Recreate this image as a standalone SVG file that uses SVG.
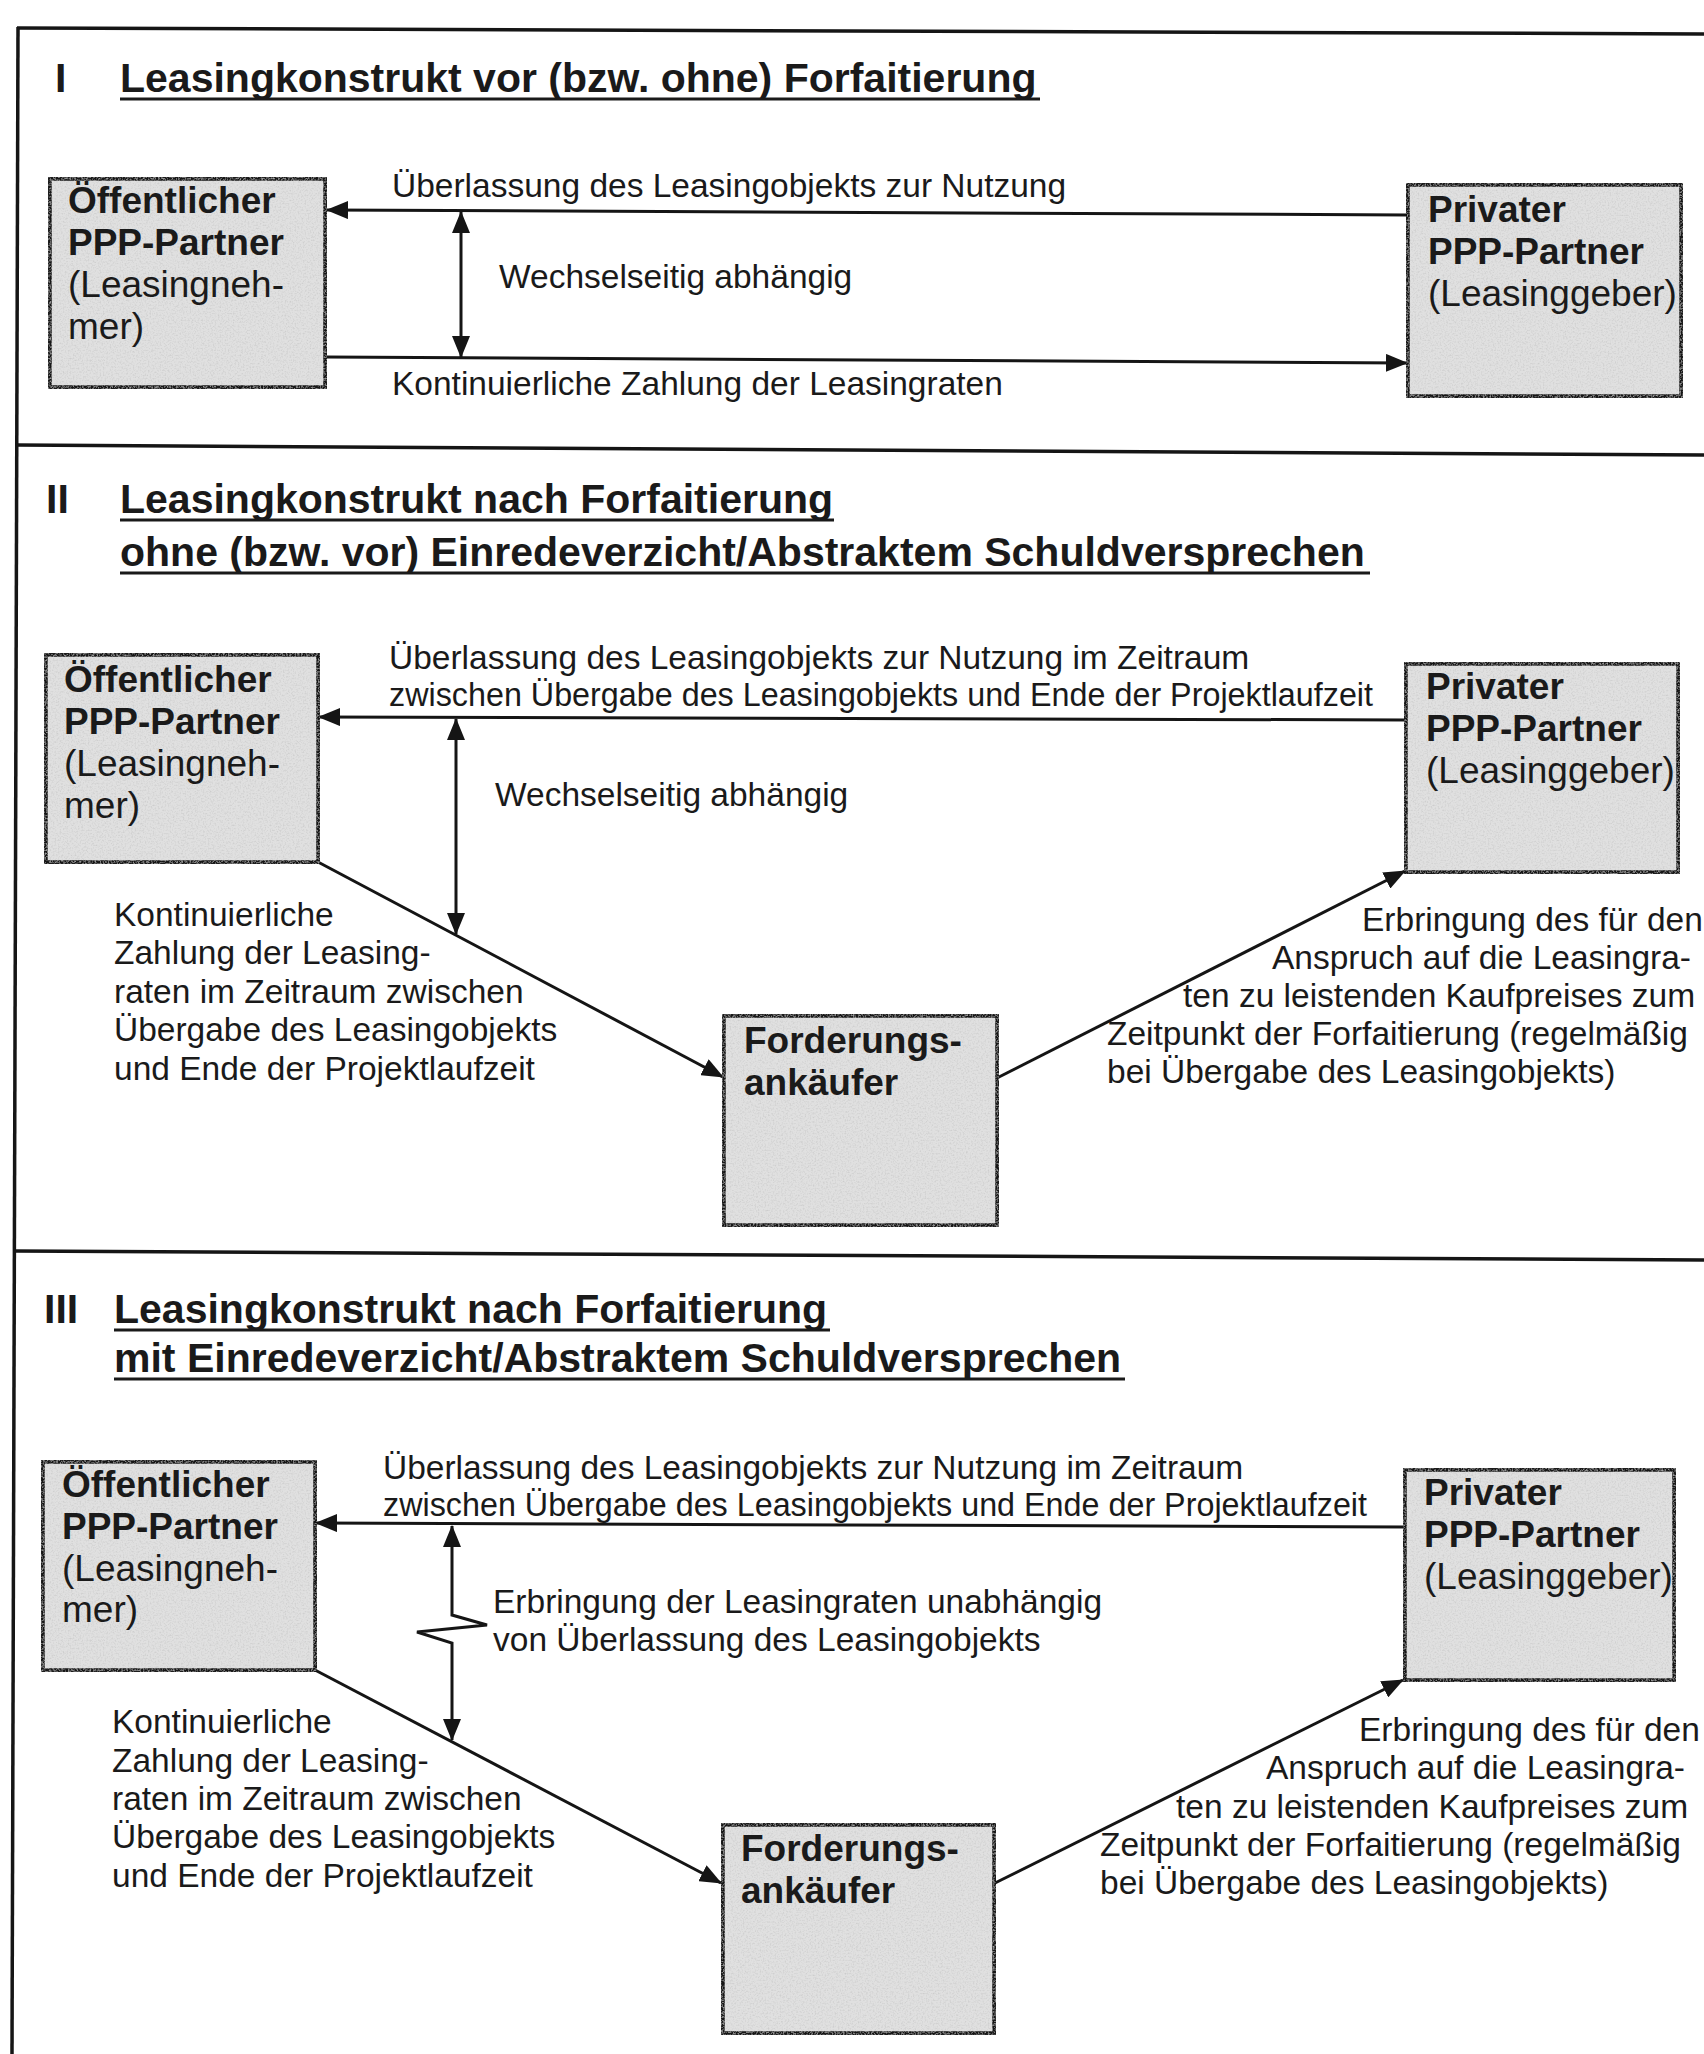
<svg xmlns="http://www.w3.org/2000/svg" width="1704" height="2054" viewBox="0 0 1704 2054">
<style>
text{font-family:"Liberation Sans",Arial,Helvetica,sans-serif;fill:#1a1a1a}
.title{font-size:41px;font-weight:bold}
.num{font-size:41px;font-weight:bold}
.nb{font-size:37px;font-weight:bold}
.nr{font-size:37px}
.lbl{font-size:33.5px}
.box{fill:#e0e0e0;stroke:#151515;stroke-width:3.5;filter:url(#speckle)}
.frame{stroke:#151515;stroke-width:3.5;fill:none}
.uline{stroke:#1a1a1a;stroke-width:3}
.con{stroke:#151515;stroke-width:3;fill:none}
.arr{marker-end:url(#ah)}
.dbl{marker-start:url(#ahs);marker-end:url(#ah)}
</style>
<defs>
<marker id="ah" viewBox="0 0 22 18" refX="21" refY="9" markerWidth="22" markerHeight="18" markerUnits="userSpaceOnUse" orient="auto">
<path d="M0,0 L22,9 L0,18 Z" fill="#151515"/>
</marker>
<marker id="ahs" viewBox="0 0 22 18" refX="1" refY="9" markerWidth="22" markerHeight="18" markerUnits="userSpaceOnUse" orient="auto">
<path d="M22,0 L0,9 L22,18 Z" fill="#151515"/>
</marker>
<filter id="speckle" x="-0.05" y="-0.05" width="1.1" height="1.1">
<feTurbulence type="fractalNoise" baseFrequency="0.6" numOctaves="2" seed="7" result="t"/>
<feColorMatrix in="t" type="matrix" values="0 0 0 0 0.55  0 0 0 0 0.55  0 0 0 0 0.55  0 0 0 1.6 -0.72" result="dots"/>
<feComposite in="dots" in2="SourceGraphic" operator="atop" result="d2"/>
<feMerge><feMergeNode in="SourceGraphic"/><feMergeNode in="d2"/></feMerge>
</filter>
</defs>
<rect x="0" y="0" width="1704" height="2054" fill="#ffffff"/>

<g id="frame">
<line class="frame" x1="17" y1="28" x2="1704" y2="34"/>
<line class="frame" x1="18" y1="27" x2="12" y2="2054"/>
<line class="frame" x1="17" y1="445" x2="1704" y2="455"/>
<line class="frame" x1="15" y1="1251" x2="1704" y2="1260"/>
</g>

<g id="section-I-title">
<text class="num" x="55" y="92">I</text>
<text class="title" x="120" y="92">Leasingkonstrukt vor (bzw. ohne) Forfaitierung</text>
<line class="uline" x1="120" y1="99" x2="1040" y2="99"/>
</g>
<g id="section-II-title">
<text class="num" x="46" y="513">II</text>
<text class="title" x="120" y="513">Leasingkonstrukt nach Forfaitierung</text>
<line class="uline" x1="120" y1="520" x2="834" y2="520"/>
<text class="title" x="120" y="566">ohne (bzw. vor) Einredeverzicht/Abstraktem Schuldversprechen</text>
<line class="uline" x1="120" y1="573" x2="1370" y2="573"/>
</g>
<g id="section-III-title">
<text class="num" x="44" y="1323">III</text>
<text class="title" x="114" y="1323">Leasingkonstrukt nach Forfaitierung</text>
<line class="uline" x1="114" y1="1330" x2="830" y2="1330"/>
<text class="title" x="114" y="1372">mit Einredeverzicht/Abstraktem Schuldversprechen</text>
<line class="uline" x1="114" y1="1379" x2="1125" y2="1379"/>
</g>

<g id="connectors">
<line class="con arr" x1="1408" y1="215" x2="327" y2="210"/>
<line class="con arr" x1="326" y1="357" x2="1407" y2="363"/>
<line class="con dbl" x1="461" y1="212" x2="461" y2="357"/>

<line class="con arr" x1="1406" y1="720" x2="319" y2="717"/>
<line class="con dbl" x1="456" y1="719" x2="456" y2="934"/>
<line class="con arr" x1="318" y1="862" x2="723" y2="1077"/>
<line class="con arr" x1="997" y1="1078" x2="1405" y2="871"/>

<line class="con arr" x1="1405" y1="1527" x2="316" y2="1523"/>
<polyline class="con dbl" points="452,1526 452,1615 487,1625 417,1632 452,1643 452,1740"/>
<line class="con arr" x1="315" y1="1670" x2="721" y2="1883"/>
<line class="con arr" x1="995" y1="1883" x2="1403" y2="1680"/>
</g>

<g id="labels-I">
<text class="lbl" x="392" y="197">Überlassung des Leasingobjekts zur Nutzung</text>
<text class="lbl" x="499" y="288">Wechselseitig abhängig</text>
<text class="lbl" x="392" y="395">Kontinuierliche Zahlung der Leasingraten</text>
</g>
<g id="labels-II">
<text class="lbl" x="389" y="669">Überlassung des Leasingobjekts zur Nutzung im Zeitraum</text>
<text class="lbl" x="389" y="706" textLength="984" lengthAdjust="spacingAndGlyphs">zwischen Übergabe des Leasingobjekts und Ende der Projektlaufzeit</text>
<text class="lbl" x="495" y="806">Wechselseitig abhängig</text>
<text class="lbl" x="114" y="926">Kontinuierliche</text>
<text class="lbl" x="114" y="964">Zahlung der Leasing-</text>
<text class="lbl" x="114" y="1003">raten im Zeitraum zwischen</text>
<text class="lbl" x="114" y="1041">Übergabe des Leasingobjekts</text>
<text class="lbl" x="114" y="1080">und Ende der Projektlaufzeit</text>
<text class="lbl" x="1362" y="931">Erbringung des für den</text>
<text class="lbl" x="1272" y="969">Anspruch auf die Leasingra-</text>
<text class="lbl" x="1183" y="1007">ten zu leistenden Kaufpreises zum</text>
<text class="lbl" x="1107" y="1045">Zeitpunkt der Forfaitierung (regelmäßig</text>
<text class="lbl" x="1107" y="1083">bei Übergabe des Leasingobjekts)</text>
</g>
<g id="labels-III">
<text class="lbl" x="383" y="1479">Überlassung des Leasingobjekts zur Nutzung im Zeitraum</text>
<text class="lbl" x="383" y="1516" textLength="984" lengthAdjust="spacingAndGlyphs">zwischen Übergabe des Leasingobjekts und Ende der Projektlaufzeit</text>
<text class="lbl" x="493" y="1613">Erbringung der Leasingraten unabhängig</text>
<text class="lbl" x="493" y="1651">von Überlassung des Leasingobjekts</text>
<text class="lbl" x="112" y="1733">Kontinuierliche</text>
<text class="lbl" x="112" y="1772">Zahlung der Leasing-</text>
<text class="lbl" x="112" y="1810">raten im Zeitraum zwischen</text>
<text class="lbl" x="112" y="1848">Übergabe des Leasingobjekts</text>
<text class="lbl" x="112" y="1887">und Ende der Projektlaufzeit</text>
<text class="lbl" x="1359" y="1741">Erbringung des für den</text>
<text class="lbl" x="1266" y="1779">Anspruch auf die Leasingra-</text>
<text class="lbl" x="1176" y="1818">ten zu leistenden Kaufpreises zum</text>
<text class="lbl" x="1100" y="1856">Zeitpunkt der Forfaitierung (regelmäßig</text>
<text class="lbl" x="1100" y="1894">bei Übergabe des Leasingobjekts)</text>
</g>

<g id="node-I-oeffentlich">
<rect class="box" x="50" y="179" width="275" height="208"/>
<text class="nb" x="68" y="213">Öffentlicher</text>
<text class="nb" x="68" y="255">PPP-Partner</text>
<text class="nr" x="68" y="297">(Leasingneh-</text>
<text class="nr" x="68" y="339">mer)</text>
</g>
<g id="node-I-privat">
<rect class="box" x="1408" y="185" width="273" height="211"/>
<text class="nb" x="1428" y="222">Privater</text>
<text class="nb" x="1428" y="264">PPP-Partner</text>
<text class="nr" x="1428" y="306">(Leasinggeber)</text>
</g>

<g id="node-II-oeffentlich">
<rect class="box" x="46" y="655" width="272" height="207"/>
<text class="nb" x="64" y="692">Öffentlicher</text>
<text class="nb" x="64" y="734">PPP-Partner</text>
<text class="nr" x="64" y="776">(Leasingneh-</text>
<text class="nr" x="64" y="818">mer)</text>
</g>
<g id="node-II-privat">
<rect class="box" x="1406" y="664" width="272" height="208"/>
<text class="nb" x="1426" y="699">Privater</text>
<text class="nb" x="1426" y="741">PPP-Partner</text>
<text class="nr" x="1426" y="783">(Leasinggeber)</text>
</g>
<g id="node-II-forderung">
<rect class="box" x="724" y="1016" width="273" height="209"/>
<text class="nb" x="744" y="1053">Forderungs-</text>
<text class="nb" x="744" y="1095">ankäufer</text>
</g>

<g id="node-III-oeffentlich">
<rect class="box" x="43" y="1462" width="272" height="208"/>
<text class="nb" x="62" y="1497">Öffentlicher</text>
<text class="nb" x="62" y="1539">PPP-Partner</text>
<text class="nr" x="62" y="1581">(Leasingneh-</text>
<text class="nr" x="62" y="1622">mer)</text>
</g>
<g id="node-III-privat">
<rect class="box" x="1405" y="1470" width="269" height="210"/>
<text class="nb" x="1424" y="1505">Privater</text>
<text class="nb" x="1424" y="1547">PPP-Partner</text>
<text class="nr" x="1424" y="1589">(Leasinggeber)</text>
</g>
<g id="node-III-forderung">
<rect class="box" x="723" y="1825" width="271" height="208"/>
<text class="nb" x="741" y="1861">Forderungs-</text>
<text class="nb" x="741" y="1903">ankäufer</text>
</g>
</svg>
